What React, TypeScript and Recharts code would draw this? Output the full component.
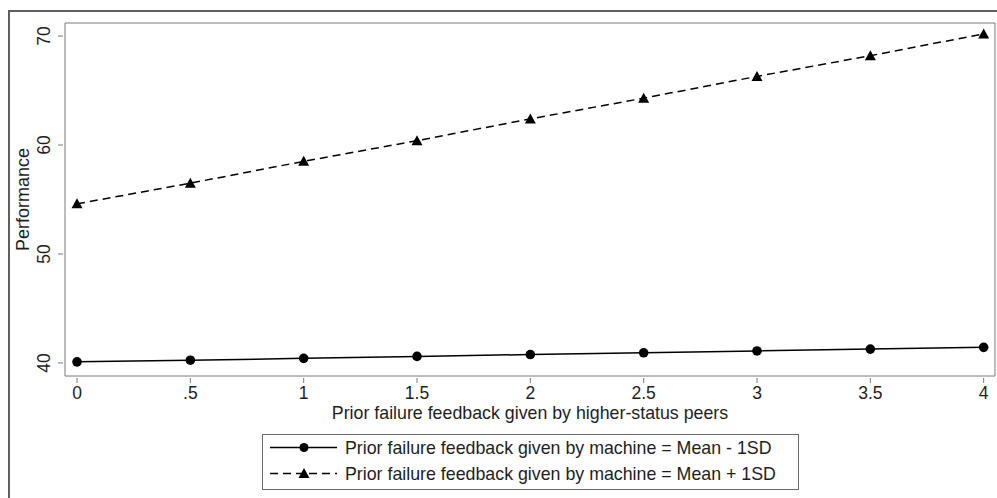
import React from 'react'
import { LineChart, Line, XAxis, YAxis, ReferenceArea } from 'recharts'

const xValues = [0, 0.5, 1, 1.5, 2, 2.5, 3, 3.5, 4]
const lowSeries = [40.1, 40.25, 40.42, 40.6, 40.77, 40.93, 41.1, 41.27, 41.43]
const highSeries = [54.6, 56.5, 58.5, 60.4, 62.4, 64.3, 66.3, 68.2, 70.2]
const xTickLabels = ['0', '.5', '1', '1.5', '2', '2.5', '3', '3.5', '4']
const yTicks = [40, 50, 60, 70]
const xDomain = [-0.053, 4.05]
const yDomain = [38.8, 71.2]

const lowName = 'Prior failure feedback given by machine = Mean - 1SD'
const highName = 'Prior failure feedback given by machine = Mean + 1SD'

const data = xValues.map((x, i) => ({ x, low: lowSeries[i], high: highSeries[i] }))

const FONT = '"Liberation Sans", Arial, sans-serif'
const INK = '#1e1e1e'
const GRID = '#7a7a7a'

function YTick({ x, y, payload }: any) {
  return (
    <g>
      <line x1={x - 7} x2={x - 2} y1={y} y2={y} stroke={GRID} strokeWidth={1} />
      <text
        x={x - 15}
        y={y}
        transform={`rotate(-90, ${x - 15}, ${y})`}
        textAnchor="middle"
        fontSize={17.5}
        fontFamily={FONT}
        fill={INK}
      >
        {payload.value}
      </text>
    </g>
  )
}

function XTick({ x, y, payload }: any) {
  const idx = xValues.indexOf(payload.value)
  return (
    <g>
      <line x1={x} x2={x} y1={y + 2} y2={y + 7} stroke={GRID} strokeWidth={1} />
      <text x={x} y={y + 23} textAnchor="middle" fontSize={17.5} fontFamily={FONT} fill={INK}>
        {idx >= 0 ? xTickLabels[idx] : payload.value}
      </text>
    </g>
  )
}

function Triangle({ cx, cy }: any) {
  if (cx == null || cy == null) return null
  return <path d={`M${cx},${cy - 5.5} L${cx + 5.5},${cy + 4.5} L${cx - 5.5},${cy + 4.5} Z`} fill="#000" />
}

function Dot({ cx, cy }: any) {
  if (cx == null || cy == null) return null
  return <circle cx={cx} cy={cy} r={4.8} fill="#000" />
}

function LegendBox() {
  const rows = [
    { name: lowName, dash: undefined as string | undefined, tri: false },
    { name: highName, dash: '8 5', tri: true },
  ]
  return (
    <div style={{
      position: 'absolute', left: 262, top: 434, width: 537, height: 56,
      border: '1px solid #6a6a6a', background: '#fff', boxSizing: 'border-box',
    }}>
      <svg width={537} height={56} style={{ position: 'absolute', left: -1, top: -1 }}>
        {rows.map((r, i) => {
          const cy = 13.5 + i * 26
          return (
            <g key={i}>
              <line x1={8} x2={75} y1={cy} y2={cy} stroke="#000" strokeWidth={1.6} strokeDasharray={r.dash} />
              {r.tri
                ? <Triangle cx={42} cy={cy} />
                : <circle cx={42} cy={cy} r={4.5} fill="#000" />}
              <text x={83} y={cy + 6.5} fontSize={17.8} fontFamily={FONT} fill={INK}>{r.name}</text>
            </g>
          )
        })}
      </svg>
    </div>
  )
}

export default function App() {
  return (
    <div style={{ position: 'absolute', left: 0, top: 0, width: 997, height: 498, background: '#fff', overflow: 'hidden' }}>
      {/* outer graph frame, cut off at right and bottom */}
      <div style={{
        position: 'absolute', left: 8, top: 10, width: 1010, height: 520,
        border: '2px solid #5f5f5f', boxSizing: 'border-box',
      }} />
      <div style={{ position: 'absolute', left: 0, top: 0 }}>
        <LineChart width={997} height={498} data={data} margin={{ top: 23, right: 2, left: 0, bottom: 0 }}>
          <XAxis
            dataKey="x"
            type="number"
            domain={xDomain}
            ticks={xValues}
            height={122}
            axisLine={false}
            tickLine={false}
            tickSize={0}
            tickMargin={0}
            tick={<XTick />}
            interval={0}
            allowDataOverflow
            label={{
              value: 'Prior failure feedback given by higher-status peers',
              position: 'insideTop',
              offset: 30,
              fontSize: 17.8,
              fontFamily: FONT,
              fill: INK,
            }}
          />
          <YAxis
            type="number"
            domain={yDomain}
            ticks={yTicks}
            width={65}
            axisLine={false}
            tickLine={false}
            tickSize={0}
            tickMargin={0}
            tick={<YTick />}
            interval={0}
            allowDataOverflow
            label={{
              value: 'Performance',
              angle: -90,
              position: 'insideLeft',
              offset: 23,
              style: { textAnchor: 'middle' },
              fontSize: 18,
              fontFamily: FONT,
              fill: INK,
            }}
          />
          <ReferenceArea
            x1={xDomain[0]}
            x2={xDomain[1]}
            y1={yDomain[0]}
            y2={yDomain[1]}
            fill="none"
            stroke={GRID}
            strokeWidth={1}
            ifOverflow="visible"
          />
          <Line
            dataKey="low"
            name={lowName}
            type="linear"
            stroke="#000"
            strokeWidth={1.5}
            dot={<Dot />}
            activeDot={false}
            isAnimationActive={false}
          />
          <Line
            dataKey="high"
            name={highName}
            type="linear"
            stroke="#000"
            strokeWidth={1.5}
            strokeDasharray="8 5"
            dot={<Triangle />}
            activeDot={false}
            isAnimationActive={false}
          />
        </LineChart>
      </div>
      <LegendBox />
    </div>
  )
}
